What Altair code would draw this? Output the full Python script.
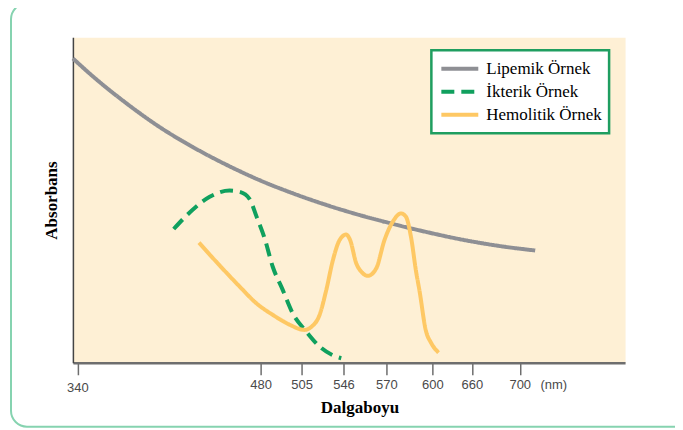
import altair as alt
import pandas as pd

# ---- data ----
series_names = ["Lipemik Örnek", "İkterik Örnek", "Hemolitik Örnek"]
series_colors = ["#8E8F94", "#10A05E", "#FEC864"]
series_dashes = [[1, 0], [13, 7], [1, 0]]

lip_nm = [336.6, 352.1, 377.5, 402.9, 428.1, 458.6, 479.2, 499.5, 529.1, 554.9,
          573.9, 595.9, 640.9, 688.4, 712.9]
lip_abs = [0.935, 0.879, 0.797, 0.724, 0.663, 0.599, 0.561, 0.521, 0.485, 0.454,
           0.427, 0.402, 0.380, 0.356, 0.345]

ikt_nm = [413.6, 428.3, 441.1, 456.3, 464.0, 471.6, 476.9, 482.4, 487.4, 493.5,
          499.6, 509.6, 522.6, 535.6, 543.8]
ikt_abs = [0.411, 0.471, 0.510, 0.529, 0.525, 0.503, 0.449, 0.383, 0.295, 0.224,
           0.152, 0.096, 0.050, 0.023, 0.014]

hem_nm = [432.9, 448.7, 464.0, 476.7, 487.5, 497.7, 507.9, 514.4, 522.6, 529.2,
          535.7, 542.2, 547.5, 549.7, 553.1, 556.1, 559.6, 564.3, 568.9, 574.1,
          579.5, 582.7, 586.1, 589.4, 591.5, 595.8, 599.2, 609.5]
hem_abs = [0.369, 0.299, 0.234, 0.183, 0.147, 0.117, 0.101, 0.110, 0.147, 0.224,
           0.316, 0.377, 0.394, 0.377, 0.306, 0.279, 0.267, 0.290, 0.377, 0.433,
           0.459, 0.449, 0.385, 0.279, 0.224, 0.098, 0.061, 0.031]

tick_values = [340, 480, 505, 546, 570, 600, 660, 700]
unit_pos = 728  # where "(nm)" sits on the axis

# non-uniform wavelength axis (piecewise linear, as in the reference)
x_domain = [336.6, 340, 480, 505, 546, 570, 600, 660, 700, 788]
x_range = [0, 4.5, 188, 229, 271, 314, 360, 399.6, 447.5, 553]

rows = []
for name, nms, vals in [(series_names[0], lip_nm, lip_abs),
                        (series_names[1], ikt_nm, ikt_abs),
                        (series_names[2], hem_nm, hem_abs)]:
    for a, b in zip(nms, vals):
        rows.append({"series": name, "nm": a, "abs": b})
df = pd.DataFrame(rows)

legend_style = dict(
    title=None,
    orient="none",
    legendX=359,
    legendY=13,
    fillColor="white",
    strokeColor="#1F9E60",
    padding=7,
    symbolType="stroke",
    symbolSize=1369,
    symbolStrokeWidth=4,
    clipHeight=23,
    rowPadding=0,
    symbolOffset=1,
    labelOffset=6,
    labelFont="Liberation Serif",
    labelFontSize=17,
    labelColor="black",
    labelLimit=300,
)

lines = alt.Chart(df).mark_line(strokeWidth=4, interpolate="monotone").encode(
    x=alt.X(
        "nm:Q",
        title="Dalgaboyu",
        scale=alt.Scale(domain=x_domain, range=x_range, nice=False, zero=False),
        axis=alt.Axis(
            values=tick_values + [unit_pos],
            labelExpr=f"datum.value == {unit_pos} ? '(nm)' : datum.label",
            labelFlush=False,
            labelOverlap=False,
            grid=False,
            domainColor="#6E6E6E",
            domainWidth=2.5,
            tickColor="#6E6E6E",
            tickWidth=1.5,
            tickSize=12,
            tickOpacity={"condition": {"test": f"datum.value == {unit_pos}", "value": 0}, "value": 1},
            labelPadding={"condition": {"test": "datum.value == 340", "value": 7}, "value": 4},
            labelFont="Liberation Sans",
            labelFontSize=13,
            labelColor="#4A4A4A",
            titleFont="Liberation Serif",
            titleFontSize=17,
            titleFontWeight="bold",
            titleColor="black",
            titleX=287,
            titleY=45,
            titleBaseline="middle",
        ),
    ),
    y=alt.Y(
        "abs:Q",
        title="Absorbans",
        scale=alt.Scale(domain=[0, 1], nice=False, zero=False),
        axis=alt.Axis(
            ticks=False,
            labels=False,
            grid=False,
            domainColor="#444444",
            domainWidth=1.5,
            titleFont="Liberation Serif",
            titleFontSize=17,
            titleFontWeight="bold",
            titleColor="black",
            titleX=-21,
            titleY=163,
            titleBaseline="middle",
            titleAlign="center",
        ),
    ),
    color=alt.Color(
        "series:N",
        scale=alt.Scale(domain=series_names, range=series_colors),
        legend=alt.Legend(**legend_style),
    ),
    strokeDash=alt.StrokeDash(
        "series:N",
        scale=alt.Scale(domain=series_names, range=series_dashes),
        legend=alt.Legend(**legend_style),
    ),
)

border = alt.Chart(alt.Data(values=[{"k": 1}])).mark_rect(
    fill="transparent", stroke="#86D3B0", strokeWidth=2, cornerRadius=16
).encode(
    x=alt.value(-62), x2=alt.value(660), y=alt.value(-34), y2=alt.value(390)
)

chart = alt.layer(border, lines).properties(
    width=553,
    height=326,
    padding={"left": 65, "top": 29, "right": 50, "bottom": 65},
    autosize=alt.AutoSizeParams(type="none"),
    background="white",
).configure_view(
    fill="#FEF0D5", stroke="transparent"
).configure_legend(
    strokeWidth=2.5,
    labelFont="Liberation Serif",
)

chart.save("out.html", embed_options={"renderer": "svg", "actions": False})
